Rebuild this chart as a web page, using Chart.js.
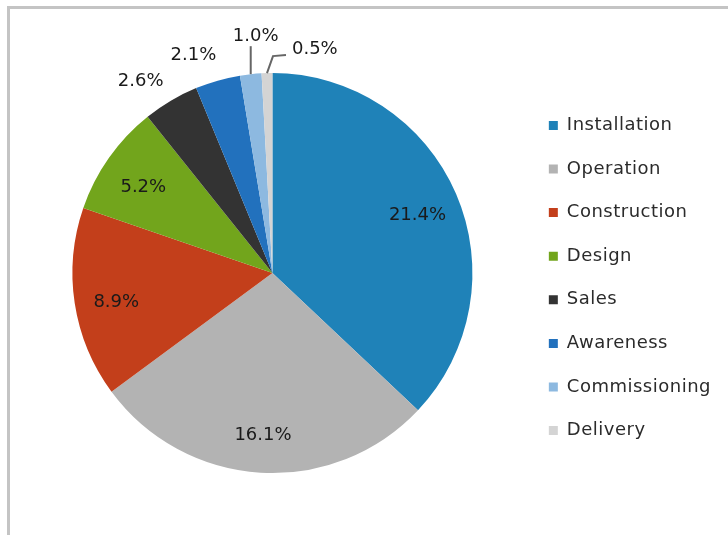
<!DOCTYPE html>
<html>
<head>
<meta charset="utf-8">
<script src="https://cdn.jsdelivr.net/npm/chart.js@4"></script>
<style>
html, body { margin: 0; padding: 0; background: #fff; }
#wrap { position: relative; width: 728px; height: 535px; overflow: hidden; }
#wrap canvas { position: absolute; left: 0; top: 0; }
#frame {
    position: absolute; left: 7px; top: 6px; right: -10px; bottom: -10px;
    border-top: 3px solid #c4c4c4; border-left: 3px solid #c4c4c4;
    pointer-events: none;
}
</style>
</head>
<body>
<div id="wrap">
    <canvas id="phaseChart" width="728" height="535"></canvas>
    <div id="frame"></div>
</div>
<script>
const categories = ['Installation', 'Operation', 'Construction', 'Design', 'Sales', 'Awareness', 'Commissioning', 'Delivery'];
const shares = [21.4, 16.1, 8.9, 5.2, 2.6, 2.1, 1.0, 0.5];
const sliceColors = ['#1f82b8', '#b3b3b3', '#c33f1b', '#72a51c', '#333333', '#2271bd', '#8db9e0', '#d4d4d4'];

const FONT = '"DejaVu Sans", sans-serif';

// the original text is a little wider than DejaVu, so open it up slightly
const spacing = {
    id: 'spacing',
    beforeUpdate(chart) { chart.ctx.letterSpacing = '0.5px'; },
    beforeDraw(chart) { chart.ctx.letterSpacing = '0.5px'; }
};

// value labels: inside for big slices, outside for small ones, leader lines for the tiniest
const pieLabels = {
    id: 'pieLabels',
    afterDatasetsDraw(chart) {
        const ctx = chart.ctx;
        const meta = chart.getDatasetMeta(0);
        ctx.save();
        ctx.letterSpacing = '0px';
        ctx.font = '18px ' + FONT;
        ctx.fillStyle = '#1a1a1a';
        ctx.strokeStyle = '#666666';
        ctx.lineWidth = 2;
        ctx.textBaseline = 'middle';
        meta.data.forEach((arc, i) => {
            const p = arc.getProps(['x', 'y', 'startAngle', 'endAngle', 'outerRadius'], true);
            const mid = (p.startAngle + p.endAngle) / 2;
            const text = shares[i].toFixed(1) + '%';
            if (shares[i] >= 5) {
                const r = p.outerRadius * 0.79;
                ctx.textAlign = 'center';
                ctx.fillText(text, p.x + Math.cos(mid) * r, p.y + Math.sin(mid) * r + 5);
            } else if (shares[i] >= 2) {
                const a = mid - 3.5 * Math.PI / 180;
                const r = p.outerRadius * 1.16;
                ctx.textAlign = 'center';
                ctx.fillText(text, p.x + Math.cos(a) * r - 2, p.y + Math.sin(a) * r + 1);
            } else {
                const ex = p.x + Math.cos(mid) * p.outerRadius;
                const ey = p.y + Math.sin(mid) * p.outerRadius;
                ctx.beginPath();
                if (shares[i] >= 1) {
                    ctx.moveTo(ex, ey);
                    ctx.lineTo(ex, ey - 28);
                    ctx.stroke();
                    ctx.textAlign = 'center';
                    ctx.fillText(text, ex + 5, ey - 38);
                } else {
                    ctx.moveTo(ex, ey);
                    ctx.lineTo(ex + 6, ey - 17);
                    ctx.lineTo(ex + 19, ey - 18);
                    ctx.stroke();
                    ctx.textAlign = 'left';
                    ctx.fillText(text, ex + 25, ey - 24);
                }
            }
        });
        ctx.restore();
    }
};

new Chart(document.getElementById('phaseChart'), {
    type: 'pie',
    data: {
        labels: categories,
        datasets: [{
            data: shares,
            backgroundColor: sliceColors,
            borderWidth: 0,
            hoverOffset: 0
        }]
    },
    options: {
        responsive: false,
        animation: false,
        layout: {
            padding: { left: 21.6, right: 7, top: 73, bottom: 62 }
        },
        plugins: {
            legend: {
                position: 'right',
                align: 'center',
                title: {
                    display: true,
                    text: '',
                    font: { size: 1, lineHeight: 1 },
                    padding: { top: 9, bottom: 0 }
                },
                labels: {
                    boxWidth: 9,
                    boxHeight: 9,
                    padding: 25.6,
                    color: '#2b2b2b',
                    font: { family: FONT, size: 18 }
                }
            },
            tooltip: { enabled: false }
        }
    },
    plugins: [spacing, pieLabels]
});
</script>
</body>
</html>
